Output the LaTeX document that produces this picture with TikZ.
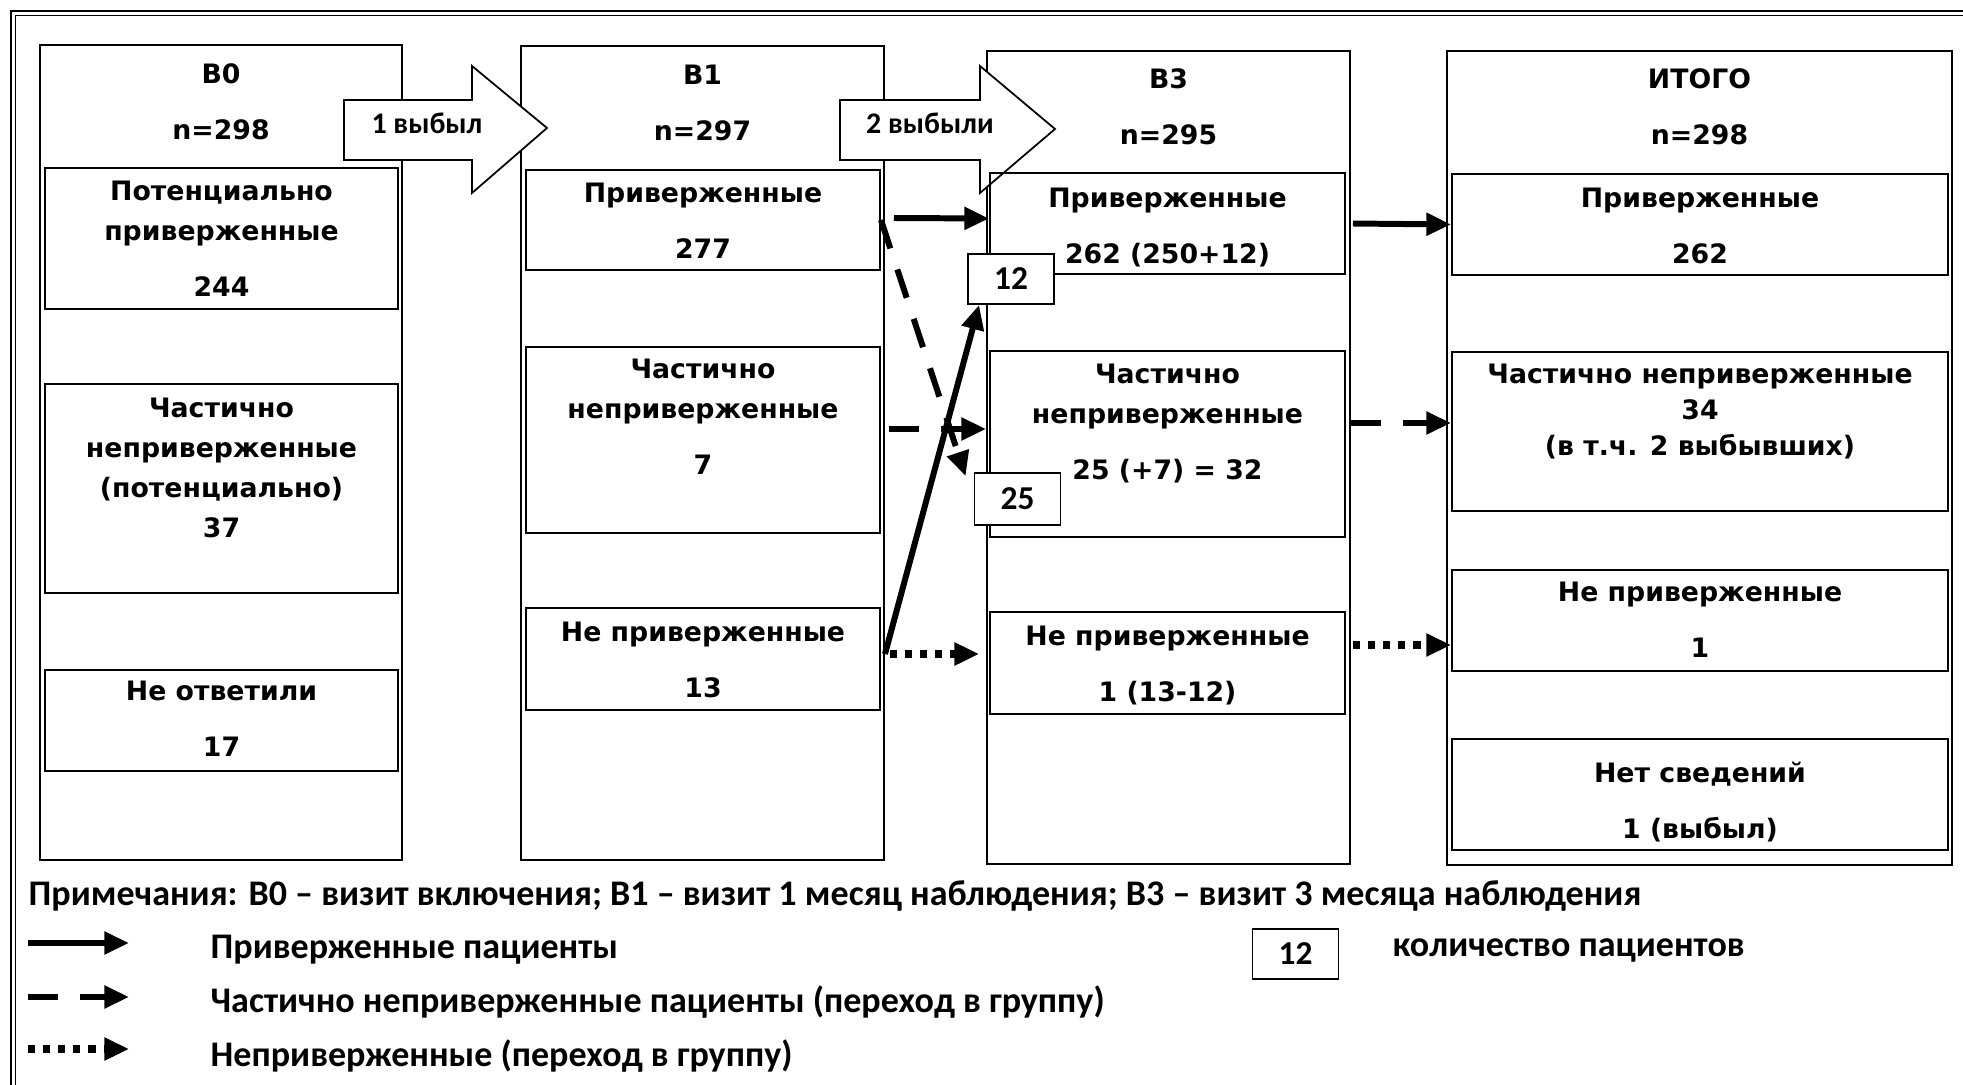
\documentclass[tikz,border=0pt]{standalone}
\usepackage{fontspec}
\setmainfont{DejaVu Sans}
\newfontfamily\legfont{Carlito}
\usetikzlibrary{arrows.meta,calc}
\newcommand{\boxfont}{\bfseries\fontsize{7.6}{11.4}\selectfont}
\newcommand{\dropfont}{\legfont\bfseries\fontsize{8.5}{10}\selectfont}
\newcommand{\numfont}{\legfont\bfseries\fontsize{9.5}{11}\selectfont}
\newcommand{\notefont}{\legfont\bfseries\fontsize{10.25}{12}\selectfont}
\begin{document}
\begin{tikzpicture}[x=0.01cm,y=-0.01cm,
    visit/.style={draw,line width=0.5pt,inner sep=0pt},
    grp/.style={draw,line width=0.5pt,inner sep=0pt},
    txt/.style={anchor=north,align=center,font=\boxfont,inner sep=0pt},
    cnt/.style={draw,fill=white,line width=0.5pt,font=\numfont,inner sep=0pt,minimum width=0.86cm,minimum height=0.5cm},
    drop/.style={draw,fill=white,line width=0.5pt,line join=miter},
    adh/.style={line width=1.7pt,-{Triangle[length=7pt,width=6.2pt]}},
    part/.style={adh,dash pattern=on 8.5pt off 6.3pt},
    non/.style={line width=2pt,dash pattern=on 2pt off 2.3pt,-{Triangle[length=7pt,width=6.2pt]}},
    note/.style={anchor=west,font=\notefont,inner sep=0pt}]
\useasboundingbox (0,0) rectangle (1963,1085);
\draw [line width=0.6pt] (1963,11) -- (11,11) -- (11,1085);
\draw [line width=0.3pt] (1963,15.5) -- (15.5,15.5) -- (15.5,1085);

\node[visit,minimum width=3.62cm,minimum height=8.15cm] (v0) at (221,452.5) {};
\node[visit,minimum width=3.63cm,minimum height=8.14cm] (v1) at (702.5,453) {};
\node[visit,minimum width=3.63cm,minimum height=8.13cm] (v3) at (1168.5,457.5) {};
\node[visit,minimum width=5.05cm,minimum height=8.14cm] (vt) at (1699.5,458) {};

\draw [drop] (344,100) -- (472,100) -- (472,66) -- (547,128) -- (472,193) -- (472,160) -- (344,160) -- cycle;
\node[font=\dropfont,inner sep=0pt] (d1) at (427,123) {1 выбыл};
\draw [drop] (840,100) -- (980,100) -- (980,66) -- (1055,129) -- (980,193) -- (980,160) -- (840,160) -- cycle;
\node[font=\dropfont,inner sep=0pt] (d3) at (930,123) {2 выбыли};

\node[grp,minimum width=3.53cm,minimum height=1.41cm] (b0a) at (221.5,238.5) {};
\node[grp,minimum width=3.53cm,minimum height=2.09cm] (b0b) at (221.5,488.5) {};
\node[grp,minimum width=3.53cm,minimum height=1.01cm] (b0c) at (221.5,720.5) {};
\node[grp,minimum width=3.54cm,minimum height=1.00cm] (b1a) at (703,220) {};
\node[grp,minimum width=3.54cm,minimum height=1.86cm] (b1b) at (703,440) {};
\node[grp,minimum width=3.54cm,minimum height=1.02cm] (b1c) at (703,659) {};
\node[grp,minimum width=3.55cm,minimum height=1.01cm] (b3a) at (1167.5,223.5) {};
\node[grp,minimum width=3.55cm,minimum height=1.86cm] (b3b) at (1167.5,444) {};
\node[grp,minimum width=3.55cm,minimum height=1.02cm] (b3c) at (1167.5,663) {};
\node[grp,minimum width=4.96cm,minimum height=1.01cm] (ta) at (1700,224.5) {};
\node[grp,minimum width=4.96cm,minimum height=1.59cm] (tb) at (1700,431.5) {};
\node[grp,minimum width=4.96cm,minimum height=1.01cm] (tc) at (1700,620.5) {};
\node[grp,minimum width=4.96cm,minimum height=1.11cm] (td) at (1700,794.5) {};

\node[txt] (v0h) at (221,63) {В0\\[4.6pt]n=298};
\node[txt] (b0at) at (221.5,180) {Потенциально\\приверженные\\[4.6pt]244};
\node[txt] (b0bt) at (221.5,397) {Частично\\неприверженные\\(потенциально)\\37};
\node[txt] (b0ct) at (221.5,680) {Не ответили\\[4.6pt]17};
\node[txt] (v1h) at (702.5,64) {В1\\[4.6pt]n=297};
\node[txt] (b1at) at (703,182) {Приверженные\\[4.6pt]277};
\node[txt] (b1bt) at (703,358) {Частично\\неприверженные\\[4.6pt]7};
\node[txt] (b1ct) at (703,621) {Не приверженные\\[4.6pt]13};
\node[txt] (v3h) at (1168.5,68) {В3\\[4.6pt]n=295};
\node[txt] (b3at) at (1167.5,187) {Приверженные\\[4.6pt]262 (250+12)};
\node[txt] (b3bt) at (1167.5,363) {Частично\\неприверженные\\[4.6pt]25 (+7) = 32};
\node[txt] (b3ct) at (1167.5,625) {Не приверженные\\[4.6pt]1 (13-12)};
\node[txt] (vth) at (1699.5,68) {ИТОГО\\[4.6pt]n=298};
\node[txt] (tat) at (1700,187) {Приверженные\\[4.6pt]262};
\node[txt] (tbt) at (1700,363) {Частично неприверженные\\[-1.1pt]34\\[-1.1pt](в т.ч. 2 выбывших)};
\node[txt] (tct) at (1700,581) {Не приверженные\\[4.6pt]1};
\node[txt] (tdt) at (1700,761) {Нет сведений\\[4.6pt]1 (выбыл)};

\node[cnt] (n12) at (1011,279) {12};
\node[cnt,minimum height=0.52cm] (n25) at (1017.5,499) {25};

\draw [adh] ($(b1a.east)+(13,-2)$) -- ($(b3a.west)+(0,-5)$);
\draw [part] (b1a.east) -- ($(n25.north west)+(-8,4)$);
\draw [part] ($(b1b.east)+(8,-11)$) -- ($(b3b.west)+(-3,-15)$);
\draw [adh] ($(b1c.east)+(4,-5)$) -- ($(n12.south west)+(12,0)$);
\draw [non] ($(b1c.east)+(9,-5)$) -- ($(b3c.west)+(-10,-9)$);
\draw [adh] ($(b3a.east)+(7,0)$) -- (ta.west);
\draw [part] ($(b3b.east)+(5,-21)$) -- ($(tb.west)+(0,-8.5)$);
\draw [non] ($(b3c.east)+(7,-18)$) -- ($(tc.west)+(0,24.5)$);

\node[note] (nt) at (28,896) {Примечания: В0 – визит включения; В1 – визит 1 месяц наблюдения; В3 – визит 3 месяца наблюдения};
\coordinate (l1a) at (28,943);
\coordinate (l1b) at (129,943);
\coordinate (l2a) at (28,997);
\coordinate (l2b) at (129,997);
\coordinate (l3a) at (28,1049);
\coordinate (l3b) at (129,1049);
\draw [adh] (l1a) -- (l1b);
\draw [part] (l2a) -- (l2b);
\draw [non] (l3a) -- (l3b);
\node[note] (l1t) at (210,950) {Приверженные пациенты};
\node[note] (l2t) at (210,1002) {Частично неприверженные пациенты (переход в группу)};
\node[note] (l3t) at (210,1056) {Неприверженные (переход в группу)};
\node[cnt] (k12) at (1295.5,954) {12};
\node[note] (kt) at (1392,950) {количество пациентов};
\end{tikzpicture}
\end{document}
